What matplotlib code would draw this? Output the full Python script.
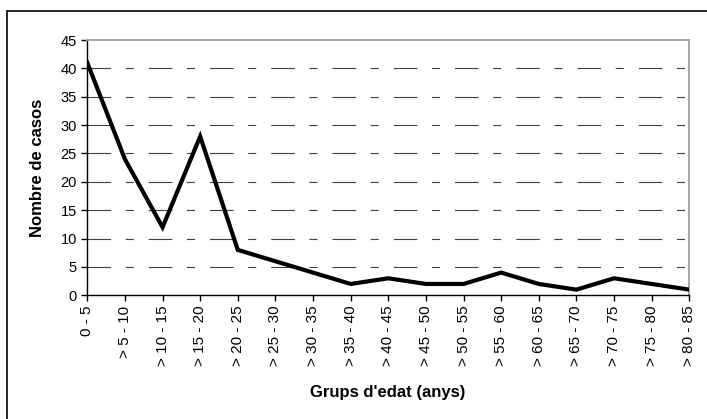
import numpy as np
import matplotlib
matplotlib.use("Agg")
import matplotlib.pyplot as plt
from matplotlib.patches import Rectangle

# age groups and number of cases
grups = ["0 - 5", "> 5 - 10", "> 10 - 15", "> 15 - 20", "> 20 - 25",
         "> 25 - 30", "> 30 - 35", "> 35 - 40", "> 40 - 45", "> 45 - 50",
         "> 50 - 55", "> 55 - 60", "> 60 - 65", "> 65 - 70", "> 70 - 75",
         "> 75 - 80", "> 80 - 85"]
casos = [41, 24, 12, 28, 8, 6, 4, 2, 3, 2, 2, 4, 2, 1, 3, 2, 1]
yTicks = [0, 5, 10, 15, 20, 25, 30, 35, 40, 45]

plt.rcParams['font.family'] = ['Liberation Sans', 'DejaVu Sans']
plt.rcParams['lines.scale_dashes'] = False

W, H = 707, 419
fig = plt.figure(figsize=(W/100, H/100), dpi=100)

# outer chart border (cut by the image on right and bottom)
fig.patches.append(Rectangle((7/W, -0.1), 1.2, 1 - 11/H + 0.1,
                             transform=fig.transFigure, fill=False,
                             edgecolor='black', linewidth=1.2))

left, right, top, bottom = 87.3, 689.3, 40, 295.3
ax = fig.add_axes([left/W, 1 - bottom/H, (right - left)/W, (bottom - top)/H])

xs = np.arange(len(grups))
ax.plot(xs, casos, color='black', linewidth=3.0, solid_joinstyle='miter',
        zorder=3)

# dashed gridlines (long - short pattern)
for yv in yTicks[1:-1]:
  ax.axhline(y=yv, color='#404040', linewidth=0.8,
             dashes=(17, 10.5, 5.8, 10.8), zorder=1)

ax.set_xlim(0, len(grups) - 1)
ax.set_ylim(0, 45)
ax.set_xticks(xs)
ax.set_xticklabels(grups, rotation=90, fontsize=11, va='top', ha='center')
ax.set_yticks(yTicks)
ax.set_yticklabels([str(v) for v in yTicks], fontsize=10.5)
ax.tick_params(axis='both', direction='out', length=4, width=1, pad=3.5,
               color='black')

for s in ['top', 'right']:
  ax.spines[s].set_color('#a0a0a0')
  ax.spines[s].set_linewidth(1.3)
for s in ['left', 'bottom']:
  ax.spines[s].set_color('black')
  ax.spines[s].set_linewidth(1.0)

fig.text(388/W, 1 - 392/H, "Grups d'edat (anys)", ha='center', va='center',
         fontsize=12, fontweight='bold')
fig.text(38/W, 1 - 167.5/H, "Nombre de casos", ha='center', va='center',
         rotation=90, fontsize=12, fontweight='bold')

plt.savefig("out.png", dpi=100)
